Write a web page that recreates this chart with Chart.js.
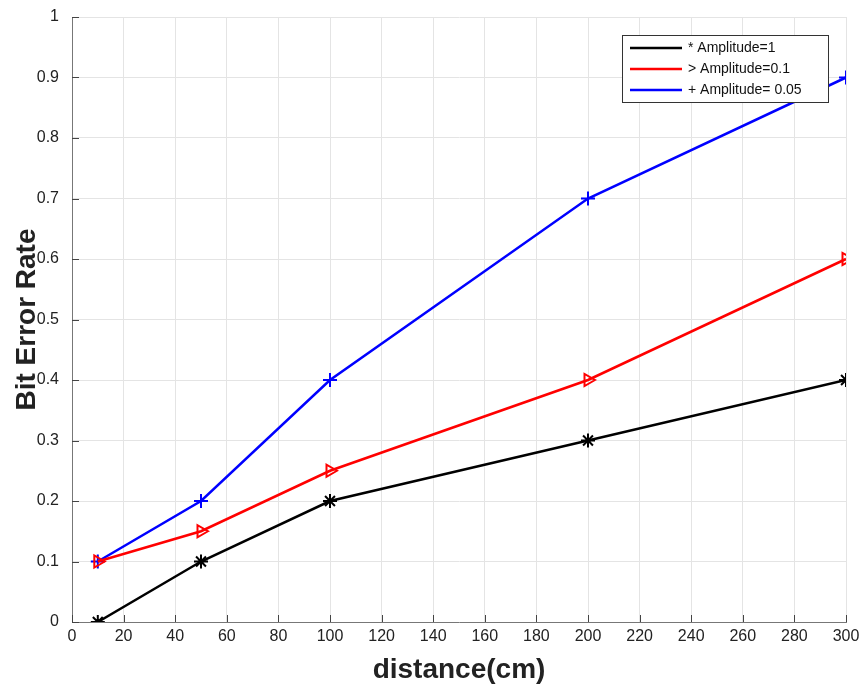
<!DOCTYPE html>
<html>
<head>
<meta charset="utf-8">
<script src="https://cdn.jsdelivr.net/npm/chart.js@4"></script>
<style>
  html, body { margin: 0; padding: 0; background: #fff; }
  #wrap { width: 861px; height: 687px; }
</style>
</head>
<body>
<div id="wrap"><canvas id="berChart" width="861" height="687"></canvas></div>
<script>
// distances measured (cm)
const distances = [10, 50, 100, 200, 300];
// bit error rate per amplitude
const berAmp1 = [0, 0.1, 0.2, 0.3, 0.4];
const berAmp01 = [0.1, 0.15, 0.25, 0.4, 0.6];
const berAmp005 = [0.1, 0.2, 0.4, 0.7, 0.9];
const seriesLabels = ["* Amplitude=1", "> Amplitude=0.1", "+ Amplitude= 0.05"];

const toPoints = (ys) => ys.map((y, i) => ({ x: distances[i], y: y }));

// legend box drawn inside the plot, top right (matlab style)
const boxLegend = {
  id: "boxLegend",
  afterDraw(chart) {
    const ctx = chart.ctx;
    const x0 = 622, y0 = 35, w = 206, h = 67;
    ctx.save();
    ctx.fillStyle = "#fff";
    ctx.fillRect(x0, y0, w, h);
    ctx.strokeStyle = "#333";
    ctx.lineWidth = 1;
    ctx.strokeRect(x0 + 0.5, y0 + 0.5, w, h);
    ctx.font = "14px 'Liberation Sans', Arial, sans-serif";
    ctx.textBaseline = "middle";
    chart.data.datasets.forEach((ds, i) => {
      const y = y0 + 13 + i * 21;
      ctx.strokeStyle = ds.borderColor;
      ctx.lineWidth = 2.5;
      ctx.beginPath();
      ctx.moveTo(x0 + 8, y);
      ctx.lineTo(x0 + 60, y);
      ctx.stroke();
      ctx.fillStyle = "#111";
      ctx.fillText(ds.label, x0 + 66, y);
    });
    ctx.restore();
  },
};

// short tick marks pointing into the plot
const innerTicks = {
  id: "innerTicks",
  beforeDatasetsDraw(chart) {
    const ctx = chart.ctx;
    const xs = chart.scales.x, ys = chart.scales.y;
    const a = chart.chartArea;
    ctx.save();
    ctx.strokeStyle = "#444";
    ctx.lineWidth = 1;
    ctx.beginPath();
    xs.ticks.forEach((t) => {
      const px = Math.round(xs.getPixelForValue(t.value)) + 0.5;
      ctx.moveTo(px, a.bottom);
      ctx.lineTo(px, a.bottom - 7);
    });
    ys.ticks.forEach((t) => {
      const py = Math.round(ys.getPixelForValue(t.value)) + 0.5;
      ctx.moveTo(a.left, py);
      ctx.lineTo(a.left + 7, py);
    });
    ctx.stroke();
    ctx.restore();
  },
};

const tickFont = { family: "'Liberation Sans', Arial, sans-serif", size: 16 };
const titleFont = { family: "'Liberation Sans', Arial, sans-serif", size: 28, weight: "bold" };

const config = {
  type: "line",
  data: {
    datasets: [
      {
        label: seriesLabels[0],
        data: toPoints(berAmp1),
        borderColor: "#000000",
        backgroundColor: "#000000",
        borderWidth: 2.5,
        pointStyle: "star",
        pointRadius: 7,
        pointBorderWidth: 2,
      },
      {
        label: seriesLabels[1],
        data: toPoints(berAmp01),
        borderColor: "#ff0000",
        backgroundColor: "rgba(255,255,255,0)",
        borderWidth: 2.5,
        pointStyle: "triangle",
        rotation: 90,
        pointRadius: 7,
        pointBorderWidth: 2,
      },
      {
        label: seriesLabels[2],
        data: toPoints(berAmp005),
        borderColor: "#0000ff",
        backgroundColor: "#0000ff",
        borderWidth: 2.5,
        pointStyle: "cross",
        pointRadius: 7,
        pointBorderWidth: 2,
      },
    ],
  },
  options: {
    responsive: false,
    animation: false,
    layout: { padding: { top: 17, right: 15, left: 0, bottom: 0 } },
    plugins: {
      legend: { display: false },
      tooltip: { enabled: false },
    },
    scales: {
      x: {
        type: "linear",
        min: 0,
        max: 300,
        ticks: { stepSize: 20, color: "#222", font: tickFont, padding: 5, maxRotation: 0 },
        grid: { color: "#e4e4e4", drawTicks: false },
        border: { color: "#777", width: 1 },
        title: { display: true, text: "distance(cm)", color: "#222", font: titleFont, padding: { top: 10, bottom: 0 } },
        afterFit(scale) {
          scale.height = 65;
          scale.paddingLeft = 0;
          scale.paddingRight = 0;
        },
      },
      y: {
        min: 0,
        max: 1,
        ticks: {
          stepSize: 0.1,
          color: "#222",
          font: tickFont,
          padding: 13,
          callback: (v) => String(+v.toFixed(1)),
        },
        grid: { color: "#e4e4e4", drawTicks: false },
        border: { color: "#777", width: 1 },
        title: { display: true, text: "Bit Error Rate", color: "#222", font: titleFont, padding: { top: 10, bottom: 0 } },
        afterFit(scale) {
          scale.width = 72;
          scale.paddingTop = 0;
          scale.paddingBottom = 0;
        },
      },
    },
  },
  plugins: [innerTicks, boxLegend],
};

window.onload = function () {
  const ctx = document.getElementById("berChart").getContext("2d");
  window.berChart = new Chart(ctx, config);
};
</script>
</body>
</html>
